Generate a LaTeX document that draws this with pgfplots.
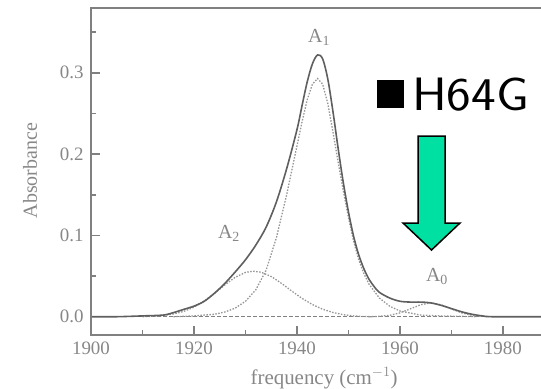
\documentclass[border=0pt]{standalone}
\usepackage{pgfplots}
\pgfplotsset{compat=1.18}
\usepackage{pgfplotstable}
\usepackage{graphicx}
\usepackage{fontspec}
\setmainfont{Liberation Serif}
\definecolor{arrowgreen}{RGB}{0,224,162}
\definecolor{axgray}{RGB}{128,128,128}
\definecolor{txtgray}{RGB}{135,135,135}
\definecolor{totgray}{RGB}{95,95,95}
\definecolor{compgray}{RGB}{150,150,150}

\pgfplotstableread{
f A
1900 0.000
1905 0.000
1910 0.001
1914 0.002
1916 0.005
1918 0.009
1920 0.013
1922 0.019
1924 0.029
1926 0.041
1928 0.055
1930 0.070
1932 0.088
1934 0.110
1936 0.141
1938 0.182
1940 0.230
1941 0.260
1942 0.289
1943 0.311
1944 0.322
1945 0.317
1946 0.292
1947 0.252
1948 0.207
1949 0.165
1950 0.129
1951 0.099
1952 0.076
1953 0.059
1954 0.046
1955 0.037
1956 0.030
1958 0.023
1960 0.019
1962 0.018
1964 0.018
1966 0.017
1968 0.014
1970 0.010
1972 0.006
1974 0.003
1976 0.001
1978 0.000
1987.4 0.000
}\total

\pgfplotstableread{
f A
1910 0.000
1912 0.0006
1914 0.0015
1916 0.0033
1918 0.0065
1920 0.0117
1922 0.0193
1924 0.0288
1926 0.0391
1928 0.0485
1930 0.0545
1931.5 0.056
1933 0.0548
1935 0.0495
1937 0.0410
1939 0.0315
1941 0.0225
1943 0.0150
1945 0.0092
1947 0.0052
1949 0.0025
1951 0.0010
1953 0.0002
1955 0.000
}\compAtwo

\pgfplotstableread{
f A
1916 0.000
1920 0.001
1924 0.003
1926 0.0058
1928 0.0105
1930 0.019
1932 0.033
1934 0.057
1936 0.097
1938 0.150
1940 0.210
1941 0.240
1942 0.267
1943 0.286
1944 0.293
1945 0.286
1946 0.262
1947 0.227
1948 0.190
1949 0.155
1950 0.122
1951 0.093
1952 0.070
1953 0.053
1954 0.040
1956 0.023
1958 0.013
1960 0.007
1964 0.002
1968 0.001
1975 0.000
}\compAone

\pgfplotstableread{
f A
1954 0.000
1956 0.0005
1958 0.0017
1960 0.0047
1962 0.0096
1964 0.0147
1966 0.017
1968 0.0147
1970 0.0096
1972 0.0047
1974 0.0017
1976 0.0005
1978 0.000
}\compAzero

\begin{document}
\begin{tikzpicture}[x=1bp,y=1bp]
\begin{axis}[
  scale only axis,
  width=450bp, height=327bp,
  xmin=1900, xmax=1987.4,
  ymin=-0.0225, ymax=0.3797,
  axis line style={draw=none},
  xtick={1900,1920,1940,1960,1980},
  xticklabels={1900,1920,1940,1960,1980},
  minor xtick={1910,1930,1950,1970},
  ytick={0,0.1,0.2,0.3},
  yticklabels={0.0,0.1,0.2,0.3},
  minor ytick={0.05,0.15,0.25,0.35},
  xtick pos=lower, ytick pos=left,
  tick align=inside,
  major tick length=9bp, minor tick length=5bp,
  every tick/.style={axgray, line width=1.5bp},
  tick label style={font=\fontsize{19}{19}\selectfont, text=txtgray},
  xticklabel style={yshift=-3bp},
  yticklabel style={xshift=-4bp},
  xlabel={frequency (cm$^{-1}$)},
  ylabel={Absorbance},
  xlabel style={font=\fontsize{21}{21}\selectfont, text=txtgray, at={(axis description cs:0.518,0)}, anchor=center, yshift=-43bp},
  ylabel style={font=\fontsize{20}{20}\selectfont, text=txtgray, at={(axis description cs:-0.1356,0.503)}, anchor=center, rotate=0},
  clip=true,
]
\addplot[axgray, line width=1.5bp, dash pattern=on 4bp off 2bp] coordinates {(1900,0) (1987.4,0)};
\addplot[compgray, line width=1.3bp, dash pattern=on 1.5bp off 1.5bp] table[x=f,y=A] {\compAtwo};
\addplot[compgray, line width=1.3bp, dash pattern=on 1.5bp off 1.5bp] table[x=f,y=A] {\compAone};
\addplot[compgray, line width=1.3bp, dash pattern=on 1.5bp off 1.5bp] table[x=f,y=A] {\compAzero};
\addplot[totgray, line width=1.6bp, smooth] table[x=f,y=A] {\total};
\node[text=txtgray, font=\fontsize{20}{20}\selectfont] at (axis cs:1944.3,0.344) {A\textsubscript{1}};
\node[text=txtgray, font=\fontsize{20}{20}\selectfont] at (axis cs:1926.8,0.102) {A\textsubscript{2}};
\node[text=txtgray, font=\fontsize{20}{20}\selectfont] at (axis cs:1967.2,0.049) {A\textsubscript{0}};
\end{axis}
\draw[axgray, line width=2.8bp, line join=miter] (450,327) -- (0,327) -- (0,0) -- (450,0);
\fill[black] (286,227) rectangle (313,255);
\node[anchor=base west, inner sep=0pt, font=\sffamily\fontsize{47}{47}\selectfont] at (321,225) {\scalebox{1.12}[1]{H64G}};
\filldraw[fill=arrowgreen, draw=black, line width=1.5bp, line join=miter]
  (327,199) -- (354,199) -- (354,112) -- (369,112) -- (340.5,85) -- (312,112) -- (327,112) -- cycle;
\pgfresetboundingbox
\path (-91,-53) rectangle (450,335);
\end{tikzpicture}
\end{document}
